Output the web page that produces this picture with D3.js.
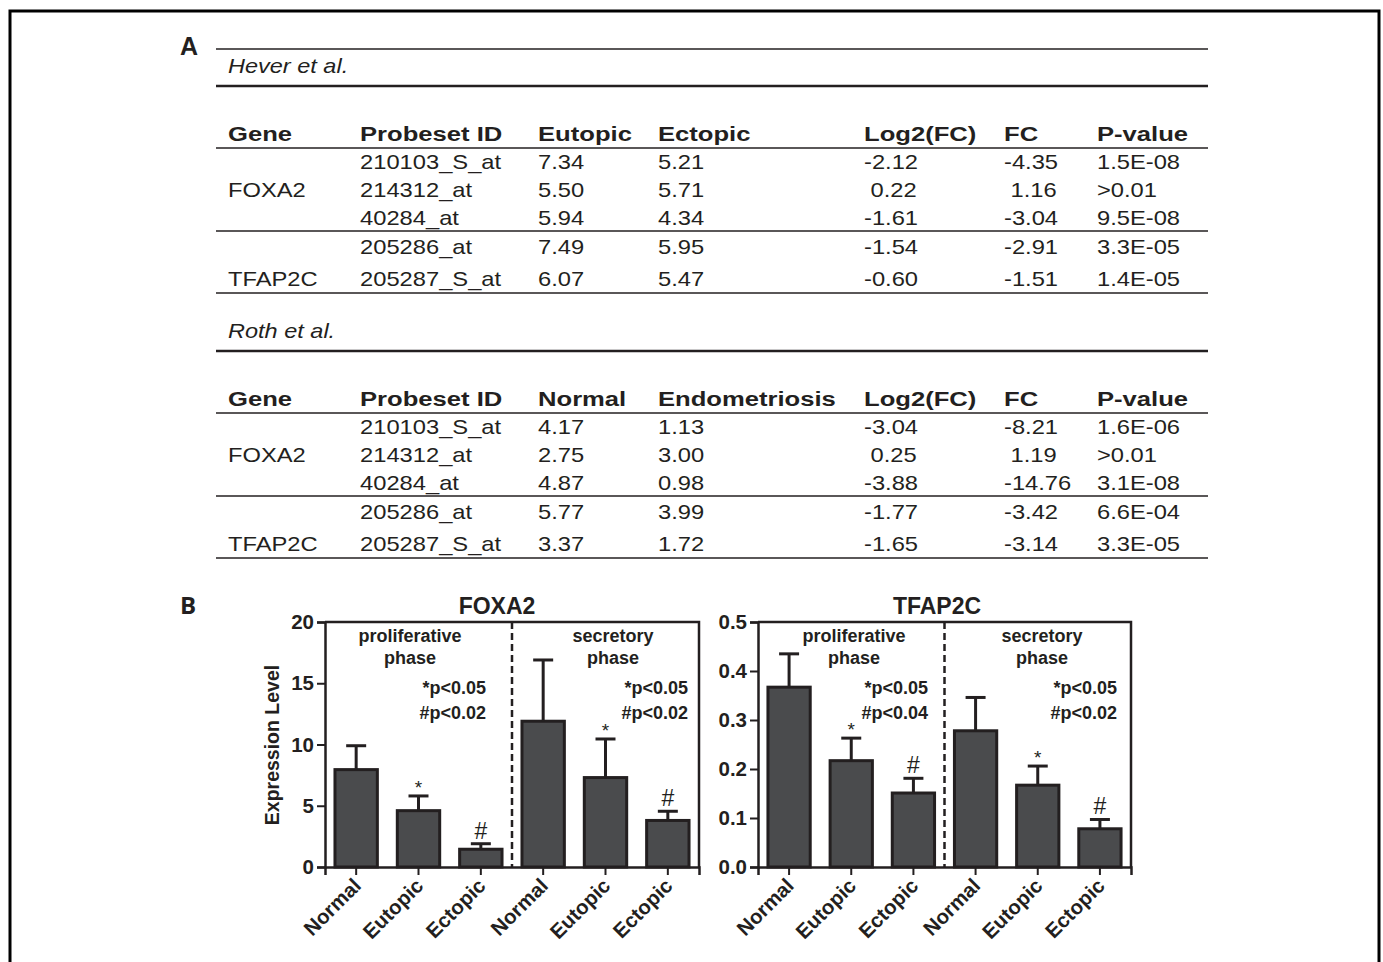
<!DOCTYPE html>
<html><head><meta charset="utf-8">
<script src="https://cdn.jsdelivr.net/npm/d3@7"></script>
<style>
html,body{margin:0;padding:0;background:#fff;}
svg text{font-family:"Liberation Sans",Arial,sans-serif;white-space:pre;}
</style></head>
<body>
<svg id="fig" width="1383" height="962"></svg>
<script>
// ---------- DATA ----------
const heverCols = ["Gene","Probeset ID","Eutopic","Ectopic","Log2(FC)","FC","P-value"];
const rothCols  = ["Gene","Probeset ID","Normal","Endometriosis","Log2(FC)","FC","P-value"];
const genes  = ["FOXA2","TFAP2C"];
const probes = ["210103_S_at","214312_at","40284_at","205286_at","205287_S_at"];
const heverEutopic = ["7.34","5.50","5.94","7.49","6.07"];
const heverEctopic = ["5.21","5.71","4.34","5.95","5.47"];
const heverLog2FC  = ["-2.12"," 0.22","-1.61","-1.54","-0.60"];
const heverFC      = ["-4.35"," 1.16","-3.04","-2.91","-1.51"];
const heverP       = ["1.5E-08",">0.01","9.5E-08","3.3E-05","1.4E-05"];
const rothNormal   = ["4.17","2.75","4.87","5.77","3.37"];
const rothEndo     = ["1.13","3.00","0.98","3.99","1.72"];
const rothLog2FC   = ["-3.04"," 0.25","-3.88","-1.77","-1.65"];
const rothFC       = ["-8.21"," 1.19","-14.76","-3.42","-3.14"];
const rothP        = ["1.6E-06",">0.01","3.1E-08","6.6E-04","3.3E-05"];

const groups = ["Normal","Eutopic","Ectopic","Normal","Eutopic","Ectopic"];
const phases = ["proliferative\nphase","secretory\nphase"];
const foxa2Mean = [7.95, 4.6, 1.45, 11.9, 7.3, 3.8];
const foxa2Err  = [1.95, 1.2, 0.45, 5.0, 3.15, 0.75];
const foxa2Marks = ["","*","#","","*","#"];
const foxa2Pvals = [["*p<0.05","#p<0.02"],["*p<0.05","#p<0.02"]];
const foxa2Ticks = [0,5,10,15,20];
const tfap2cMean = [0.367, 0.217, 0.151, 0.278, 0.167, 0.078];
const tfap2cErr  = [0.068, 0.046, 0.030, 0.068, 0.039, 0.019];
const tfap2cMarks = ["","*","#","","*","#"];
const tfap2cPvals = [["*p<0.05","#p<0.04"],["*p<0.05","#p<0.02"]];
const tfap2cTicks = [0,0.1,0.2,0.3,0.4,0.5];

// ---------- DRAW ----------
const svg = d3.select("#fig");
const INK = "#231f20";

svg.append("rect").attr("x",10).attr("y",11).attr("width",1369).attr("height",1000)
  .attr("fill","none").attr("stroke","#000").attr("stroke-width",3);

function T(parent, x, y, s, o={}) {
  return parent.append("text")
    .attr("transform",`translate(${x},${y}) scale(${o.sx||1},1)`)
    .attr("xml:space","preserve")
    .attr("font-size",o.size||21)
    .attr("font-weight",o.weight||"normal")
    .attr("font-style",o.style||"normal")
    .attr("text-anchor",o.anchor||"start")
    .attr("fill",o.fill||"#231f20")
    .text(s);
}
function hline(y, w){
  svg.append("line").attr("x1",216).attr("x2",1208).attr("y1",y).attr("y2",y)
    .attr("stroke",INK).attr("stroke-width",w);
}

T(svg,180,55,"A",{size:25,weight:"bold"});
T(svg,180,614,"B",{size:24,weight:"bold"}).style("font-family","'Open Sans',sans-serif");

const colX = [228,360,538,658,864,1004,1097];
const REG = {size:21, sx:1.13};
const BOLD = {size:21, sx:1.22, weight:"bold"};

function table(y0, author, cols, c3, c4, c5, c6, c7, topLine){
  if (topLine) hline(y0+49, 1.5);
  T(svg,228,y0+72.5,author,{size:21,sx:1.12,style:"italic"});
  hline(y0+86, 2.5);
  cols.forEach((c,i)=>T(svg,colX[i],y0+141,c,BOLD));
  hline(y0+148, 1.5);
  const rowY = [169,197,225,254,286];
  const columns = [probes,c3,c4,c5,c6,c7];
  columns.forEach((arr,ci)=>{
    arr.forEach((v,ri)=>T(svg,colX[ci+1],y0+rowY[ri],v,REG));
  });
  T(svg,colX[0],y0+rowY[1],genes[0],REG);
  T(svg,colX[0],y0+rowY[4],genes[1],REG);
  hline(y0+231, 1.5);
  hline(y0+293, 1.5);
}
table(0,"Hever et al.",heverCols,heverEutopic,heverEctopic,heverLog2FC,heverFC,heverP,true);
table(265,"Roth et al.",rothCols,rothNormal,rothEndo,rothLog2FC,rothFC,rothP,false);

function chart(cfg){
  const g = svg.append("g");
  const x = d3.scaleBand().domain(d3.range(groups.length)).range([cfg.x0,cfg.x1]).paddingInner(0.32).paddingOuter(0.16);
  const y = d3.scaleLinear().domain([0,cfg.max]).range([867,622]);
  g.selectAll("rect.bar").data(cfg.mean).join("rect").attr("class","bar")
    .attr("x",(d,i)=>x(i)).attr("width",x.bandwidth())
    .attr("y",d=>y(d)).attr("height",d=>y(0)-y(d))
    .attr("fill","#4a4b4d").attr("stroke",INK).attr("stroke-width",3);
  cfg.mean.forEach((m,i)=>{
    const cx = x(i)+x.bandwidth()/2, top = y(m+cfg.err[i]);
    g.append("line").attr("x1",cx).attr("x2",cx).attr("y1",y(m)).attr("y2",top).attr("stroke",INK).attr("stroke-width",3);
    g.append("line").attr("x1",cx-10).attr("x2",cx+10).attr("y1",top).attr("y2",top).attr("stroke",INK).attr("stroke-width",3);
    const mk = cfg.marks[i];
    if (mk==="*") T(g,cx,top-2,"*",{size:19,anchor:"middle"});
    if (mk==="#") T(g,cx,top-5,"#",{size:23,anchor:"middle"});
  });
  g.append("path").attr("d",`M${cfg.x0},622H${cfg.x1}V867`).attr("fill","none").attr("stroke",INK).attr("stroke-width",2.5);
  const xm = cfg.x0 + (cfg.x1-cfg.x0)/2;
  g.append("line").attr("x1",xm).attr("x2",xm).attr("y1",622).attr("y2",867)
    .attr("stroke",INK).attr("stroke-width",2.5).attr("stroke-dasharray","7,4");
  const ya = d3.axisLeft(y).tickValues(cfg.ticks).tickFormat(cfg.fmt).tickSize(8).tickPadding(3);
  const yg = g.append("g").attr("transform",`translate(${cfg.x0},0)`).call(ya);
  yg.select(".domain").attr("stroke",INK).attr("stroke-width",2.5);
  yg.selectAll(".tick line").attr("stroke",INK).attr("stroke-width",2);
  yg.selectAll(".tick text").attr("font-size",20.5).attr("font-weight","bold").attr("fill",INK)
    .style("font-family","'Liberation Sans',Arial,sans-serif");
  const xa = d3.axisBottom(x).tickFormat(i=>groups[i]).tickSize(8).tickPadding(2);
  const xg = g.append("g").attr("transform","translate(0,867)").call(xa);
  xg.select(".domain").attr("stroke",INK).attr("stroke-width",2.5);
  xg.selectAll(".tick line").attr("stroke",INK).attr("stroke-width",2);
  xg.selectAll(".tick text").attr("font-size",20.5).attr("font-weight","bold").attr("fill",INK)
    .style("font-family","'Liberation Sans',Arial,sans-serif")
    .attr("text-anchor","end").attr("transform","translate(-4,10) rotate(-45)").attr("dy","0.5em").attr("y",4);
  T(g,cfg.titleX,614,cfg.title,{size:23,weight:"bold",anchor:"middle"});
  phases.forEach((p,k)=>{
    p.split("\n").forEach((line,j)=>T(g,cfg.phaseX[k],642+j*22,line,{size:18,weight:"bold",anchor:"middle"}));
    cfg.pvals[k].forEach((line,j)=>T(g,cfg.pX[k],694+j*25,line,{size:18,weight:"bold",anchor:"end"}));
  });
  if (cfg.ylabel) {
    g.append("text").attr("transform",`translate(${cfg.ylabelX},745) rotate(-90)`)
      .attr("text-anchor","middle").attr("font-size",19.5).attr("font-weight","bold").attr("fill",INK)
      .text(cfg.ylabel);
  }
}

chart({x0:325,x1:699,max:20,ticks:foxa2Ticks,fmt:d3.format("d"),mean:foxa2Mean,err:foxa2Err,marks:foxa2Marks,
  title:"FOXA2",titleX:497,phaseX:[410,613],pX:[486,688],pvals:foxa2Pvals,ylabel:"Expression Level",ylabelX:279});
chart({x0:758,x1:1131,max:0.5,ticks:tfap2cTicks,fmt:d3.format(".1f"),mean:tfap2cMean,err:tfap2cErr,marks:tfap2cMarks,
  title:"TFAP2C",titleX:937,phaseX:[854,1042],pX:[928,1117],pvals:tfap2cPvals});
</script>
</body></html>
